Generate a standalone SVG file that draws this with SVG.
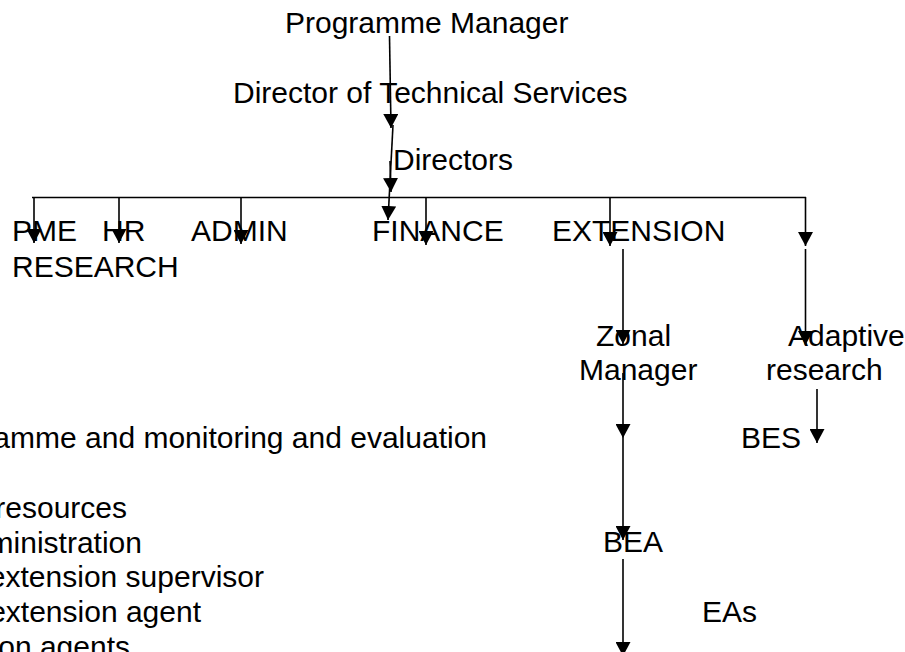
<svg xmlns="http://www.w3.org/2000/svg" width="905" height="652" viewBox="0 0 905 652">
<style>
text{font-family:"Liberation Sans",Arial,sans-serif;font-size:30px;fill:#000}
.c line{stroke:#000;stroke-width:1.6;fill:none}
.a{marker-end:url(#ah)}
.e{text-anchor:end}
</style>
<defs>
<marker id="ah" viewBox="0 0 14 15" refX="14" refY="7.5" markerWidth="14" markerHeight="15" markerUnits="userSpaceOnUse" orient="auto"><path d="M0,0 L14,7.5 L0,15 z" fill="#000"/></marker>
</defs>
<rect width="905" height="652" fill="#fff"/>
<g id="pm"><text x="285" y="33">Programme Manager</text></g>
<g id="dts"><text x="233" y="103">Director of Technical Services</text></g>
<g id="directors"><text x="393" y="170">Directors</text></g>
<g id="pme"><text x="12" y="241">PME</text></g>
<g id="hr"><text x="102" y="241">HR</text></g>
<g id="admin"><text x="191" y="241">ADMIN</text></g>
<g id="finance"><text x="372" y="241">FINANCE</text></g>
<g id="extension"><text x="552" y="241">EXTENSION</text></g>
<g id="research"><text x="12" y="277">RESEARCH</text></g>
<g id="zonal"><text x="596" y="346">Zonal</text><text x="579" y="380">Manager</text></g>
<g id="adaptive"><text x="788" y="346">Adaptive</text><text x="766" y="380">research</text></g>
<g id="bes"><text x="741" y="448">BES</text></g>
<g id="bea"><text x="603" y="552">BEA</text></g>
<g id="eas"><text x="702" y="622">EAs</text></g>
<g id="legend">
<text class="e" x="487" y="448">amme and monitoring and evaluation</text>
<text class="e" x="127" y="518">resources</text>
<text class="e" x="142" y="553">ministration</text>
<text class="e" x="264" y="587">extension supervisor</text>
<text class="e" x="201" y="622">extension agent</text>
<text class="e" x="130" y="657">on agents</text>
</g>
<g id="connectors" class="c">
<line class="a" x1="389.5" y1="36" x2="391" y2="128"/>
<line class="a" x1="393" y1="125" x2="388" y2="220"/>
<line class="a" x1="390" y1="161" x2="391" y2="192"/>
<line x1="32" y1="197.5" x2="806" y2="197.5"/>
<line class="a" x1="34" y1="197" x2="34" y2="243"/>
<line class="a" x1="119" y1="197" x2="119" y2="243"/>
<line class="a" x1="241" y1="197" x2="241" y2="244"/>
<line class="a" x1="426" y1="197" x2="426" y2="245"/>
<line class="a" x1="610" y1="197" x2="610" y2="246"/>
<line class="a" x1="805.5" y1="197" x2="805.5" y2="246"/>
<line class="a" x1="623" y1="249" x2="623" y2="344"/>
<line class="a" x1="805.5" y1="249" x2="805.5" y2="345"/>
<line class="a" x1="623" y1="373" x2="623" y2="438"/>
<line class="a" x1="623" y1="438" x2="623" y2="540"/>
<line class="a" x1="623" y1="559" x2="623" y2="656"/>
<line class="a" x1="817" y1="389" x2="817" y2="443"/>
</g>
</svg>
